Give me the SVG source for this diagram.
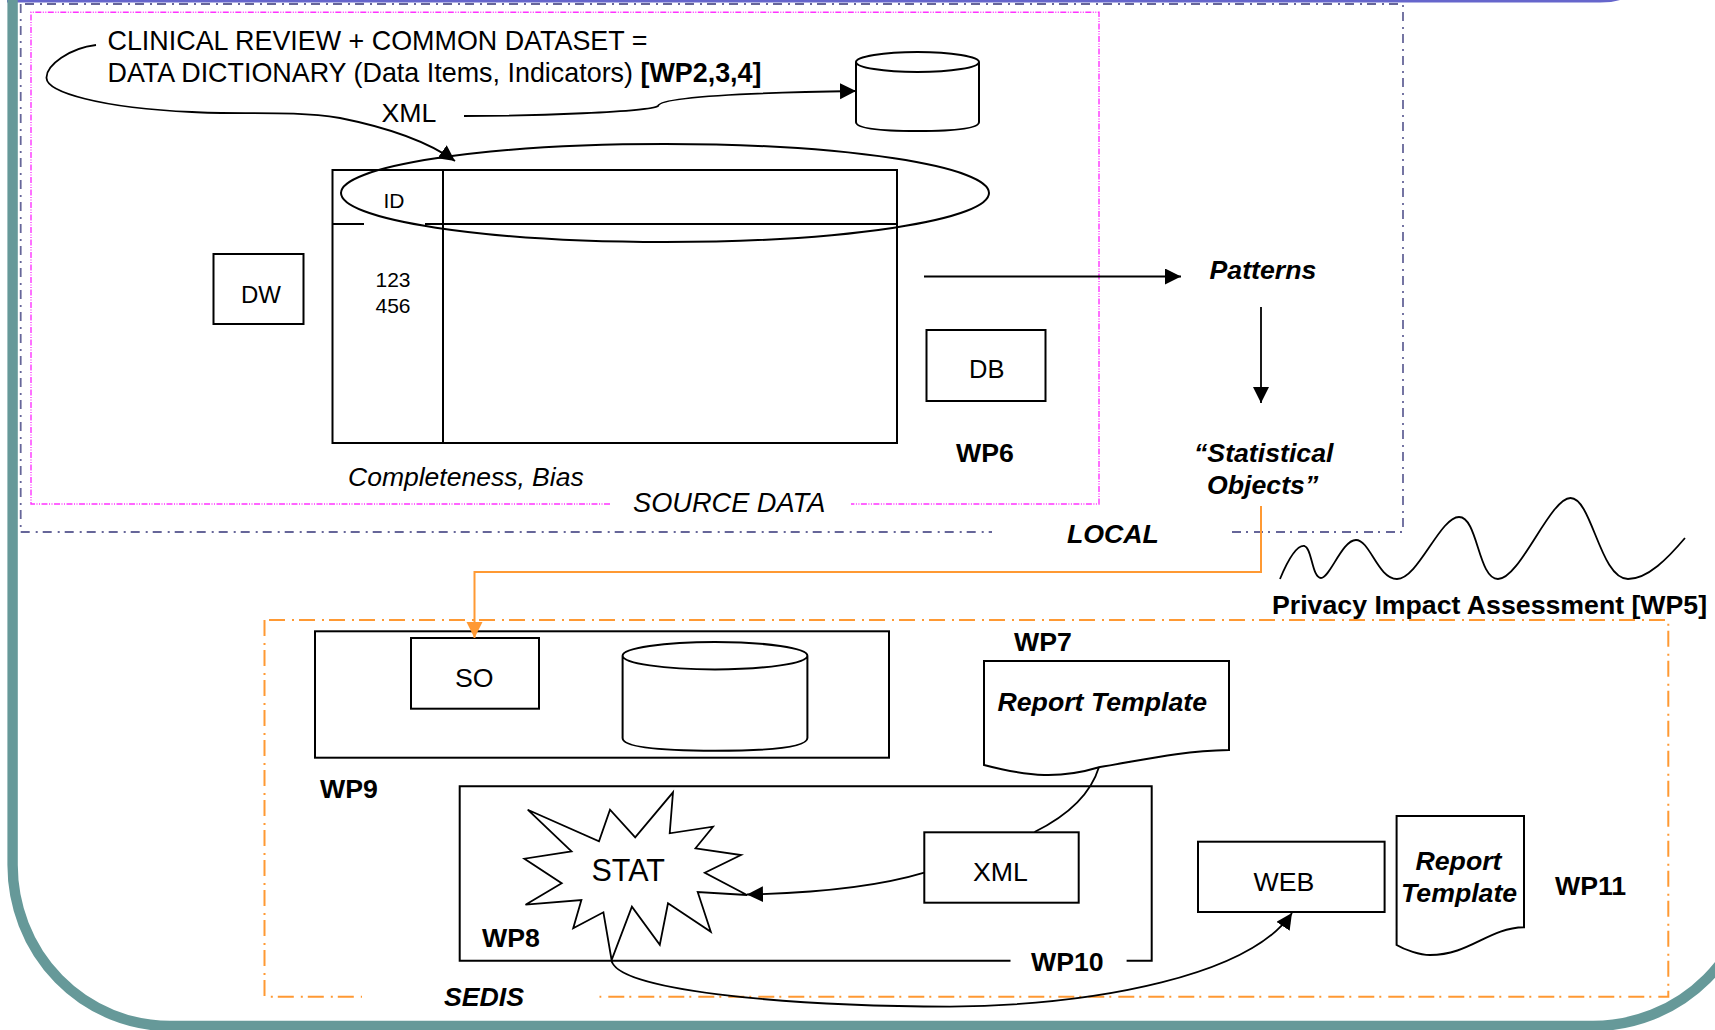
<svg xmlns="http://www.w3.org/2000/svg" width="1715" height="1030" viewBox="0 0 1715 1030">
<style>
text{font-family:"Liberation Sans",Arial,sans-serif;font-size:26.7px;fill:#000}
.b{font-weight:bold}.i{font-style:italic}.bi{font-weight:bold;font-style:italic}
.t{font-size:26.9px}
.s{fill:none;stroke:#000;stroke-width:2}
.c{fill:none;stroke:#000;stroke-width:1.8}
.o{fill:none;stroke:#f93;stroke-width:2}
.lo{fill:none;stroke:#666699;stroke-width:1.8;stroke-dasharray:9 6 2 5}
.sd{fill:none;stroke:#ff33ff;stroke-width:1.4;stroke-dasharray:6 1.500 1 1.500 1 1.500}
.se{fill:none;stroke:#f93;stroke-width:2;stroke-dasharray:16 7 2 5}
</style>
<defs>
<marker id="ah" markerUnits="userSpaceOnUse" markerWidth="18" markerHeight="18" refX="16" refY="8" orient="auto"><path d="M0 0L16 8L0 16Z" fill="#000"/></marker>
<marker id="ao" markerUnits="userSpaceOnUse" markerWidth="18" markerHeight="18" refX="16" refY="8" orient="auto"><path d="M0 0L16 8L0 16Z" fill="#f93"/></marker>
</defs>
<g id="frame">
<path d="M7 2.500V0H1620Q1612 2.500 1600 2.500Z" fill="#6666cc"/>
<path d="M12.600 0V865A157.400 161 0 0 0 170 1026H1593A161 161 0 0 0 1754 865" fill="none" stroke="#669999" stroke-width="10.400"/>
</g>
<g id="local">
<path class="lo" d="M20.700 4V532H992"/>
<path class="lo" d="M25 4H1403V532H1232"/>
<text x="1067" y="543" class="bi">LOCAL</text>
</g>
<g id="source-data">
<path class="sd" d="M610 504H31V12.300H1099V504H851"/>
<text x="633" y="512" class="i" style="font-size:27.200px">SOURCE DATA</text>
</g>
<g id="sedis">
<path class="se" d="M264.500 620V996.700H362"/>
<path class="se" d="M269 620H1668.300V996.700H599.500"/>
<text x="444" y="1006" class="bi">SEDIS</text>
</g>
<g id="title">
<text x="107.500" y="50" class="t">CLINICAL REVIEW + COMMON DATASET =</text>
<text x="107.500" y="82" class="t">DATA DICTIONARY (Data Items, Indicators) <tspan class="b">[WP2,3,4]</tspan></text>
<text x="381.500" y="122">XML</text>
</g>
<g id="cylinder-top">
<path class="s" d="M856 62A61.500 10 0 0 1 979 62A61.500 10 0 0 1 856 62ZM856 62V122Q856 131 917.500 131Q979 131 979 122V62"/>
</g>
<g id="table">
<path class="s" d="M332.500 170H897V443H332.500ZM443 170V443M332.500 224H364M425 224H897"/>
<text x="383.500" y="208" style="font-size:21px">ID</text>
<text x="375.500" y="287" style="font-size:21px">123</text>
<text x="375.500" y="313" style="font-size:21px">456</text>
<text x="348" y="486" class="i" style="font-size:26.500px">Completeness, Bias</text>
</g>
<g id="id-ellipse"><ellipse class="s" cx="665" cy="193" rx="324" ry="49"/></g>
<g id="dw"><rect class="s" x="213.500" y="254" width="90" height="70"/><text x="241" y="303" style="font-size:24px">DW</text></g>
<g id="db"><rect class="s" x="926.500" y="330" width="119" height="71"/><text x="969" y="378" style="font-size:25.500px">DB</text></g>
<g id="wp6"><text x="956" y="461.500" class="b">WP6</text></g>
<g id="patterns"><text x="1209.500" y="279" class="bi">Patterns</text></g>
<g id="statistical-objects">
<text x="1194" y="462" class="bi">“Statistical</text>
<text x="1207" y="494" class="bi">Objects”</text>
</g>
<g id="privacy">
<path class="c" d="M1280 579C1290 555 1298 545 1304.500 546C1312 548 1312 578 1321 578C1330 578 1342 540 1356 540C1370 540 1378 579 1397 579C1418 579 1440 517 1459 517C1478 517 1478 579 1498 579C1520 579 1550 498 1570.500 498C1592 498 1600 579 1628 579C1648 579 1668 558 1685 538"/>
<text x="1272" y="614" class="b">Privacy Impact Assessment [WP5]</text>
</g>
<g id="wp9-box">
<rect class="s" x="315" y="631.300" width="574" height="126.400"/>
<text x="320" y="798" class="b">WP9</text>
</g>
<g id="so"><rect class="s" x="411" y="638" width="128" height="70.700"/><text x="455" y="686.500">SO</text></g>
<g id="cylinder-wp9">
<path class="s" d="M622.600 655.700A92.400 13.700 0 0 1 807.400 655.700A92.400 13.700 0 0 1 622.600 655.700ZM622.600 655.700V738Q622.600 750.700 715 750.700Q807.400 750.700 807.400 738V655.700"/>
</g>
<g id="wp7">
<text x="1014" y="650.500" class="b">WP7</text>
<path class="s" d="M984 661H1229V750C1175 751 1135 762 1100 767C1060 779 1030 777 984 765Z"/>
<text x="997.500" y="710.500" class="bi">Report Template</text>
</g>
<g id="wp10-box">
<path class="s" d="M1010.500 960.700H459.700V786.300H1151.700V960.700H1126.600"/>
<text x="1031" y="970.500" class="b">WP10</text>
</g>
<g id="xml"><rect class="s" x="924.300" y="832.300" width="154.400" height="70.400"/><text x="973" y="880.500">XML</text></g>
<g id="stat">
<path class="c" d="M527.700 809.700L599 841.300L610 809.700L635.200 837.300L673 792.300L669.700 833.300L713 826.700L695.500 848.300L741 855L704.800 872.700L747 895L697.700 892L710.800 931.700L668 903.300L659.800 944.700L631.900 906.700L611.600 960L603.400 912.300L573.200 928.300L581.400 900L525.500 904.700L561.700 883.300L524.400 858.700L571.500 851.300Z"/>
<text x="591.500" y="881" style="font-size:30.500px">STAT</text>
</g>
<g id="wp8"><text x="482" y="946.500" class="b">WP8</text></g>
<g id="web"><rect class="s" x="1198" y="841.700" width="186.600" height="70.300"/><text x="1253.500" y="890.500">WEB</text></g>
<g id="report-template">
<path class="s" d="M1396.600 816H1524V927.300C1488 928 1470 955 1430 955C1420 955 1405 950 1396.600 945Z"/>
<text x="1415.500" y="870" class="bi">Report</text>
<text x="1401" y="901.500" class="bi">Template</text>
</g>
<g id="wp11"><text x="1555" y="895" class="b">WP11</text></g>
<g id="connectors">
<path class="c" marker-end="url(#ah)" d="M96 45C70 48 46 65 46.500 78C47 92 100 108 192 112C240 115 290 110 340 118C390 128 430 143 455 161"/>
<path class="c" marker-end="url(#ah)" d="M464 116C530 116 650 112 658 106C660 95 790 92 856 91"/>
<path class="s" marker-end="url(#ah)" d="M924 276.500H1181"/>
<path class="c" marker-end="url(#ah)" d="M1261 307V403"/>
<path class="o" marker-end="url(#ao)" d="M1261 506V572H474.500V638"/>
<path class="c" d="M1099 767C1092 790 1075 812 1034.500 832"/>
<path class="c" marker-end="url(#ah)" d="M924.300 872.700C880 886 820 893 747 894.500"/>
<path class="c" marker-end="url(#ah)" d="M611.600 960C615 990 780 1006 950 1006.700C1100 1005 1250 975 1292 913"/>
</g>
</svg>
